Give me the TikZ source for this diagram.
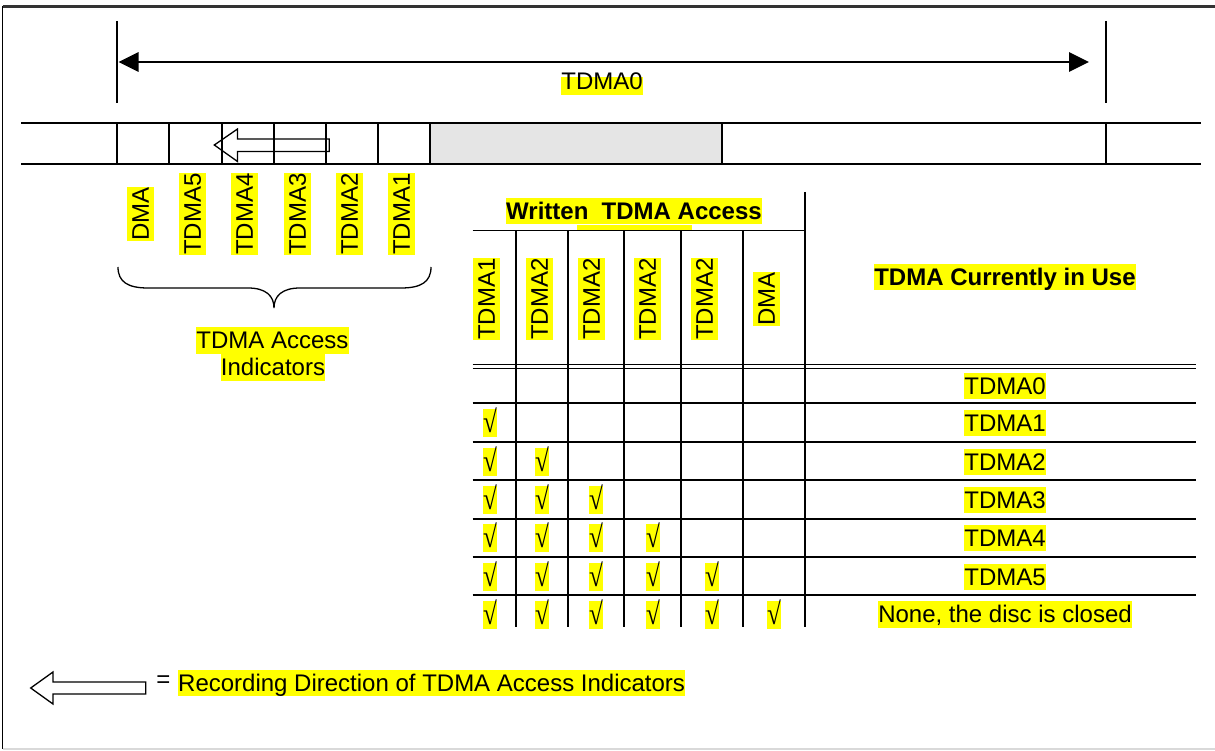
\documentclass[tikz,border=0pt]{standalone}
\usepackage{fontspec}
\setmainfont{Liberation Sans}
\newfontfamily\chkfont{Liberation Serif}
\usetikzlibrary{arrows.meta}
\definecolor{hlyellow}{RGB}{255,255,0}
\definecolor{stripgray}{RGB}{229,229,229}
\begin{document}
\begin{tikzpicture}[x=1pt,y=-1pt,
  hl/.style={fill=hlyellow,inner sep=0pt,text height=21.7pt,text depth=5.1pt,font=\fontsize{24}{28}\selectfont},
  hlb/.style={hl,font=\fontsize{24}{28}\selectfont\bfseries},
  chk/.style={hl,text height=21.5pt,text depth=6pt,font=\fontsize{24}{28}\selectfont\chkfont\bfseries},
  plain/.style={inner sep=0pt,font=\fontsize{24}{28}\selectfont},
  ln/.style={line width=1.7pt},
  tln/.style={line width=1.6pt},
  blockarrow/.style={line width=1.3pt,line join=miter}]
\useasboundingbox (0,0) rectangle (1215,751);
% frame
\draw[line width=2.2pt,black!80] (2.5,6.5) -- (1215,6.5);
\draw[line width=1.8pt] (2.5,6.5) -- (2.5,749);
\draw[line width=1.3pt,black!15] (2.5,749) -- (1215,749);
% top dimension
\coordinate (dimLtop) at (117,21);  \coordinate (dimLbot) at (117,103);
\coordinate (dimRtop) at (1106,21); \coordinate (dimRbot) at (1106,103);
\draw[ln] (dimLtop) -- (dimLbot);
\draw[ln] (dimRtop) -- (dimRbot);
\coordinate (dimL) at (118.5,62);
\coordinate (dimR) at (1089,62);
\draw[ln,{Triangle[length=20pt,width=19.5pt]}-{Triangle[length=20pt,width=19.5pt]}] (dimL) -- (dimR);
\node[hl,text height=13pt,text depth=5pt] (tdmazero) at (602,86) {TDMA0};
% strip
\fill[stripgray] (430,123) rectangle (722,164);
\draw[ln] (21,123) -- (1201,123);
\draw[ln] (21,164) -- (1201,164);
\foreach \x in {116.7,169,222.3,274,326,378,430,722,1106} \draw[ln] (\x,123) -- (\x,164);
% block arrow in strip
\draw[blockarrow] (214.3,145) -- (237.5,129) -- (237.5,139) -- (329.3,139) -- (329.3,151.5) -- (237.5,151.5) -- (237.5,161.5) -- cycle;
% rotated indicator labels
\node[hl,rotate=90] (iDMA) at (140.5,214) {DMA};
\node[hl,rotate=90] (iT5) at (192.5,214) {TDMA5};
\node[hl,rotate=90] (iT4) at (244.5,214) {TDMA4};
\node[hl,rotate=90] (iT3) at (297.5,214) {TDMA3};
\node[hl,rotate=90] (iT2) at (349.5,214) {TDMA2};
\node[hl,rotate=90] (iT1) at (401.5,214) {TDMA1};
% brace
\draw[line width=1.3pt] (118,267) .. controls (118,282) and (128,288) .. (148,288) -- (248,288)
  .. controls (266,288) and (274,296) .. (274,308)
  .. controls (274,296) and (282,288) .. (300,288) -- (401,288)
  .. controls (421,288) and (431,282) .. (431,267);
\node[hl] (accA) at (272.5,340.5) {TDMA Access};
\node[hl] (accB) at (273,367.5) {Indicators};
% table header
\node[hlb] (written) at (634,211) {Written\ \ TDMA Access};
\fill[hlyellow] (577,225) rectangle (692,229.8);
\draw[tln] (472.7,230.7) -- (805,230.7);
\draw[tln] (805,192) -- (805,627);
\foreach \x in {515.7,567.7,624,681,743} \draw[tln] (\x,230.7) -- (\x,627);
\node[hl,rotate=90] (hT1) at (486.5,299) {TDMA1};
\node[hl,rotate=90] (hT2a) at (539.5,299) {TDMA2};
\node[hl,rotate=90] (hT2b) at (591.5,299) {TDMA2};
\node[hl,rotate=90] (hT2c) at (647.5,299) {TDMA2};
\node[hl,rotate=90] (hT2d) at (704.5,299) {TDMA2};
\node[hl,rotate=90] (hDMA) at (766.5,299) {DMA};
\node[hlb] (inuse) at (1005,277) {TDMA Currently in Use};
% double line
\draw[line width=1.3pt] (472.7,364.8) -- (1196,364.8);
\draw[line width=1.3pt] (472.7,368.6) -- (1196,368.6);
\foreach \y in {402.7,441.7,480,518.7,556.7,595} \draw[tln] (472.7,\y) -- (1196,\y);
% right column
\node[hl] (u0) at (1005,386) {TDMA0};
\node[hl] (u1) at (1005,423) {TDMA1};
\node[hl] (u2) at (1005,462) {TDMA2};
\node[hl] (u3) at (1005,500) {TDMA3};
\node[hl] (u4) at (1005,538) {TDMA4};
\node[hl] (u5) at (1005,577) {TDMA5};
\node[hl] (u6) at (1005,614.5) {None, the disc is closed};
% check marks
\foreach \r/\y in {1/423,2/462,3/500,4/538,5/577,6/615}{
  \foreach \c/\x in {1/490,2/542,3/596,4/653,5/712,6/774}{
    \ifnum\c>\r\relax\else
      \node[chk] (chk-\r-\c) at (\x,\y) {\raisebox{-2pt}{\scalebox{1.05}[1.3]{√}}};
    \fi
  }
}
% legend
\draw[blockarrow] (30.7,688) -- (53,672) -- (53,682) -- (145.7,682) -- (145.7,694) -- (53,694) -- (53,704) -- cycle;
\node[plain] (eq) at (163.5,682) {=};
\node[hl,anchor=west] (legend) at (178,683) {Recording Direction of TDMA Access Indicators};
\end{tikzpicture}
\end{document}
